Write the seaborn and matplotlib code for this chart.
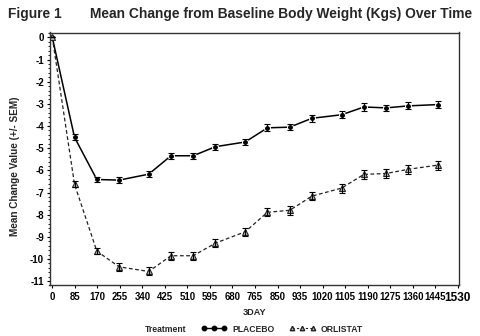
import numpy as np
import pandas as pd
import matplotlib
matplotlib.use("Agg")
import matplotlib.pyplot as plt
import seaborn as sns
from matplotlib.lines import Line2D
from matplotlib.ticker import MultipleLocator

# Study visit days (weeks 0-208) and mean change from baseline body weight (kg)
days = [0, 84, 168, 252, 364, 448, 532, 616, 728, 812, 896, 980, 1092, 1176, 1260, 1344, 1456]
placebo_mean = [0.0, -4.51, -6.41, -6.44, -6.17, -5.34, -5.34, -4.93, -4.72, -4.08, -4.05,
                -3.65, -3.49, -3.14, -3.18, -3.09, -3.03]
placebo_sem = [0.0, 0.13, 0.13, 0.13, 0.13, 0.14, 0.14, 0.14, 0.15, 0.15, 0.15,
               0.15, 0.16, 0.16, 0.15, 0.16, 0.16]
orlistat_mean = [0.0, -6.63, -9.64, -10.35, -10.56, -9.85, -9.85, -9.28, -8.77, -7.89, -7.80,
                 -7.16, -6.80, -6.18, -6.14, -5.95, -5.76]
orlistat_sem = [0.0, 0.14, 0.15, 0.17, 0.18, 0.18, 0.18, 0.18, 0.19, 0.19, 0.19,
                0.19, 0.20, 0.20, 0.20, 0.20, 0.20]
treatments = ["PLACEBO", "ORLISTAT"]
x_ticks = list(range(0, 1531, 85))
y_ticks = list(range(0, -12, -1))

sns.set_theme(style="white")
plt.rcParams["font.family"] = ["Liberation Sans", "DejaVu Sans"]
plt.rcParams["font.weight"] = "bold"
plt.rcParams["axes.unicode_minus"] = False

df = pd.DataFrame({
    "day": days * 2,
    "mean": placebo_mean + orlistat_mean,
    "sem": placebo_sem + orlistat_sem,
    "trt": [treatments[0]] * len(days) + [treatments[1]] * len(days),
})

fig = plt.figure(figsize=(4.8, 3.36), dpi=100)
ax = fig.add_axes([49.5 / 480, 1 - 285 / 336, (459 - 49.5) / 480, (285 - 32.5) / 336])

sns.lineplot(
    data=df, x="day", y="mean", hue="trt", style="trt",
    palette={"PLACEBO": "black", "ORLISTAT": "#222222"},
    dashes={"PLACEBO": "", "ORLISTAT": (3, 2)},
    markers={"PLACEBO": "o", "ORLISTAT": "^"},
    markersize=4.3, linewidth=1.1, legend=False, ax=ax,
)
# hollow grey triangles for the active arm
for line in ax.lines:
    if line.get_marker() == "^":
        line.set_markerfacecolor("#bbbbbb")
        line.set_markeredgecolor("#222222")
        line.set_markeredgewidth(0.8)
        line.set_linewidth(0.9)

for trt in treatments:
    sub = df[df["trt"] == trt]
    ax.errorbar(sub["day"], sub["mean"], yerr=sub["sem"], fmt="none",
                ecolor="black", elinewidth=0.8, capsize=2.2, capthick=0.8)

ax.set_xlim(-10.5, 1535)
ax.set_ylim(-11.17, 0.22)
ax.set_xticks(x_ticks)
ax.set_yticks(y_ticks)
ax.yaxis.set_minor_locator(MultipleLocator(0.2))
ax.set_xticklabels([str(t) for t in x_ticks], fontsize=6.9, fontweight="bold")
ax.set_yticklabels([str(t) for t in y_ticks], fontsize=7.0, fontweight="bold")
ax.get_xticklabels()[-1].set_fontsize(8.5)
ax.tick_params(axis="x", which="major", direction="out", length=2.2, width=0.8,
               pad=3, colors="black", bottom=True)
ax.tick_params(axis="y", which="major", direction="out", length=2.4, width=0.8,
               pad=1.5, colors="black", left=True)
ax.tick_params(axis="y", which="minor", direction="out", length=1.4, width=0.6,
               left=True, colors="black")
for side in ["top", "right", "left", "bottom"]:
    ax.spines[side].set_visible(True)
    ax.spines[side].set_color("#333333")
    ax.spines[side].set_linewidth(1.0)
ax.grid(False)

ax.set_xlabel("3DAY", fontsize=6.6, fontweight="bold")
ax.xaxis.set_label_coords(0.5, (285 - 308) / 252.5)
ax.xaxis.label.set_va("top")
ax.set_ylabel("Mean Change Value (+/- SEM)", fontsize=7.2, fontweight="bold")
ax.yaxis.set_label_coords((20 - 49.5) / 409.5, (285 - 166) / 252.5)

fig.text(8 / 480, 1 - 14 / 336, "Figure 1", fontsize=9.9, fontweight="bold", va="center")
fig.text(90 / 480, 1 - 14 / 336, "Mean Change from Baseline Body Weight (Kgs) Over Time",
         fontsize=9.9, fontweight="bold", va="center")

handles = [
    Line2D([], [], color="black", marker="o", markersize=3.2, linewidth=1.0),
    Line2D([], [], color="#222222", marker="^", markersize=3.2, linewidth=0.8,
           linestyle=(0, (2, 2)), markerfacecolor="#bbbbbb", markeredgecolor="#222222"),
]
fig.text(145 / 480, 1 - 329 / 336, "Treatment", fontsize=6.2, fontweight="bold", va="center")
fig.legend(handles, treatments, loc="center left", bbox_to_anchor=(201 / 480, 1 - 329 / 336),
           ncol=2, frameon=False, numpoints=3, handlelength=3.0, handletextpad=0.6,
           columnspacing=1.75, prop={"size": 6.2, "weight": "bold"}, borderpad=0,
           borderaxespad=0)

fig.savefig("out.png", dpi=100, facecolor="white")
